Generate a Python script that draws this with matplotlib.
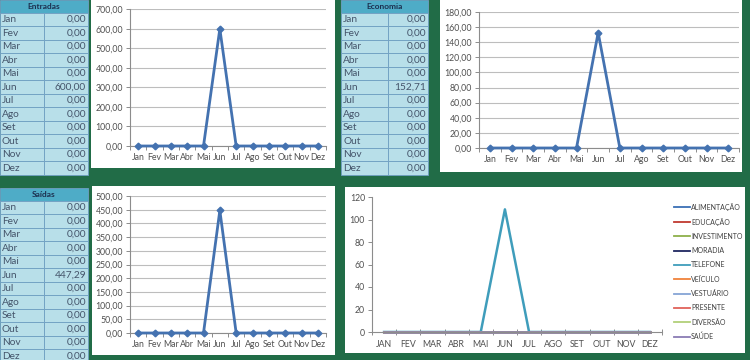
import matplotlib
matplotlib.use("Agg")
import matplotlib.pyplot as plt
from matplotlib.patches import Rectangle
from matplotlib.ticker import FuncFormatter, MultipleLocator, FixedLocator

# ---------------- data ----------------
months = ["Jan", "Fev", "Mar", "Abr", "Mai", "Jun", "Jul", "Ago", "Set", "Out", "Nov", "Dez"]
months_upper = ["JAN", "FEV", "MAR", "ABR", "MAI", "JUN", "JUL", "AGO", "SET", "OUT", "NOV", "DEZ"]
entradas = [0, 0, 0, 0, 0, 600.00, 0, 0, 0, 0, 0, 0]
economia = [0, 0, 0, 0, 0, 152.71, 0, 0, 0, 0, 0, 0]
saidas = [0, 0, 0, 0, 0, 447.29, 0, 0, 0, 0, 0, 0]

categories = ["ALIMENTAÇÃO", "EDUCAÇÃO", "INVESTIMENTO", "MORADIA", "TELEFONE",
              "VEÍCULO", "VESTUÁRIO", "PRESENTE", "DIVERSÃO", "SAÚDE"]
alimentacao = [0] * 12
educacao = [0] * 12
investimento = [0] * 12
moradia = [0] * 12
telefone = [0, 0, 0, 0, 0, 109, 0, 0, 0, 0, 0, 0]
veiculo = [0] * 12
vestuario = [0] * 12
presente = [0] * 12
diversao = [0] * 12
saude = [0] * 12
category_series = [alimentacao, educacao, investimento, moradia, telefone,
                   veiculo, vestuario, presente, diversao, saude]
category_colors = ["#3a6fb5", "#c0392f", "#8db04a", "#1f2660", "#3f9dbb",
                   "#f0823c", "#86a5d6", "#e0625a", "#b2d07a", "#8a7cb4"]

# ---------------- style ----------------
plt.rcParams['font.family'] = ['Lato', 'DejaVu Sans']
W, H = 750, 360
GREEN = "#216c47"
CELL = "#b8dfe9"
HEADER = "#4eacc7"
BORDER = "#6f9fc2"
TXT = "#44546a"
AX_TXT = "#505050"
LINE = "#4472b0"

fig = plt.figure(figsize=(7.5, 3.6), dpi=100)
fig.patch.set_facecolor(GREEN)
bg = fig.add_axes([0, 0, 1, 1])
bg.set_xlim(0, W)
bg.set_ylim(H, 0)
bg.axis('off')


def br(v):
    s = f"{v:,.2f}"
    return s.replace(",", "X").replace(".", ",").replace("X", ".")


def draw_table(x0, x1, xs, y0, title, values, hh=12.5, rh=13.5):
    bg.add_patch(Rectangle((x0, y0), x1 - x0, hh, facecolor=HEADER, edgecolor=BORDER, lw=0.6))
    bg.text((x0 + x1) / 2, y0 + hh / 2, title, ha='center', va='center',
            fontsize=6, fontweight='bold', color="#1c2f4f")
    for i, (m, v) in enumerate(zip(months, values)):
        yt = y0 + hh + i * rh
        bg.add_patch(Rectangle((x0, yt), xs - x0, rh, facecolor=CELL, edgecolor=BORDER, lw=0.6))
        bg.add_patch(Rectangle((xs, yt), x1 - xs, rh, facecolor=CELL, edgecolor=BORDER, lw=0.6))
        bg.text(x0 + 2, yt + rh / 2 + 0.3, m, ha='left', va='center', fontsize=7.3, color=TXT)
        bg.text(x1 - 2, yt + rh / 2 + 0.3, br(v), ha='right', va='center', fontsize=7.3, color=TXT)


def box(x0, y0, x1, y1):
    bg.add_patch(Rectangle((x0, y0), x1 - x0, y1 - y0, facecolor="white", edgecolor="none"))


def add_ax(x0, x1, ytop, ybot):
    return fig.add_axes([x0 / W, 1 - ybot / H, (x1 - x0) / W, (ybot - ytop) / H])


def style_ax(ax, ymax, step, fmt, grid=True, labels=months, fs=6.3):
    ax.set_xlim(-0.5, 11.5)
    ax.set_ylim(0, ymax)
    ax.set_facecolor("none")
    for s in ["top", "right"]:
        ax.spines[s].set_visible(False)
    for s in ["left", "bottom"]:
        ax.spines[s].set_color("#8c8c8c")
        ax.spines[s].set_linewidth(0.8)
    ax.yaxis.set_major_locator(MultipleLocator(step))
    ax.yaxis.set_major_formatter(FuncFormatter(fmt))
    ax.set_xticks(range(12))
    ax.set_xticklabels(labels)
    ax.xaxis.set_minor_locator(FixedLocator([i - 0.5 for i in range(13)]))
    ax.tick_params(axis='x', which='major', length=0, labelsize=fs, labelcolor=AX_TXT, pad=5)
    ax.tick_params(axis='x', which='minor', length=3, color="#8c8c8c", width=0.7, direction='out')
    ax.tick_params(axis='y', which='major', length=3, color="#8c8c8c", width=0.7,
                   labelsize=fs, labelcolor=AX_TXT, pad=2)
    if grid:
        ax.yaxis.grid(True, color="#bdbdbd", lw=0.8)
        ax.set_axisbelow(True)


def line_plot(ax, vals):
    ax.plot(range(12), vals, color=LINE, lw=2, marker='D', ms=3.4, mfc=LINE, mec=LINE, clip_on=False, zorder=3)


# tables
draw_table(0, 88, 44, 0, "Entradas", entradas)
draw_table(341, 428, 388, 0, "Economia", economia)
draw_table(0, 88, 44, 188, "Saídas", saidas)

# chart boxes
box(91, -2, 335, 168)
box(440, -2, 742, 172)
box(92, 186, 335, 355)
box(345, 187, 745, 353)

# chart 1
ax1 = add_ax(130, 326, 9.3, 146)
style_ax(ax1, 700, 100, lambda v, p: br(v))
line_plot(ax1, entradas)

# chart 2
ax2 = add_ax(479, 739, 12, 148)
style_ax(ax2, 180, 20, lambda v, p: br(v))
line_plot(ax2, economia)

# chart 3
ax3 = add_ax(130, 326, 196, 333)
style_ax(ax3, 500, 50, lambda v, p: br(v))
line_plot(ax3, saidas)

# chart 4
ax4 = add_ax(372, 662, 197, 332)
style_ax(ax4, 120, 20, lambda v, p: f"{int(v)}", grid=False, labels=months_upper, fs=6.3)
ax4.tick_params(axis='x', which='minor', direction='inout', length=4)
ax4.tick_params(axis='x', which='major', pad=6)
handles = []
for name, vals, col in zip(categories, category_series, category_colors):
    h, = ax4.plot(range(12), vals, color=col, lw=1.8, clip_on=False, label=name)
    handles.append(h)
leg = ax4.legend(handles=handles, loc='upper left', bbox_to_anchor=((671 - 372) / 290, 1.0 - (200 - 197) / 135),
                 frameon=False, fontsize=5, handlelength=2.4, handletextpad=0.1,
                 labelspacing=1.05, borderaxespad=0)
for t in leg.get_texts():
    t.set_color("#404040")
for ln in leg.get_lines():
    ln.set_linewidth(1.3)

fig.savefig("out.png", dpi=100, facecolor=fig.get_facecolor())
